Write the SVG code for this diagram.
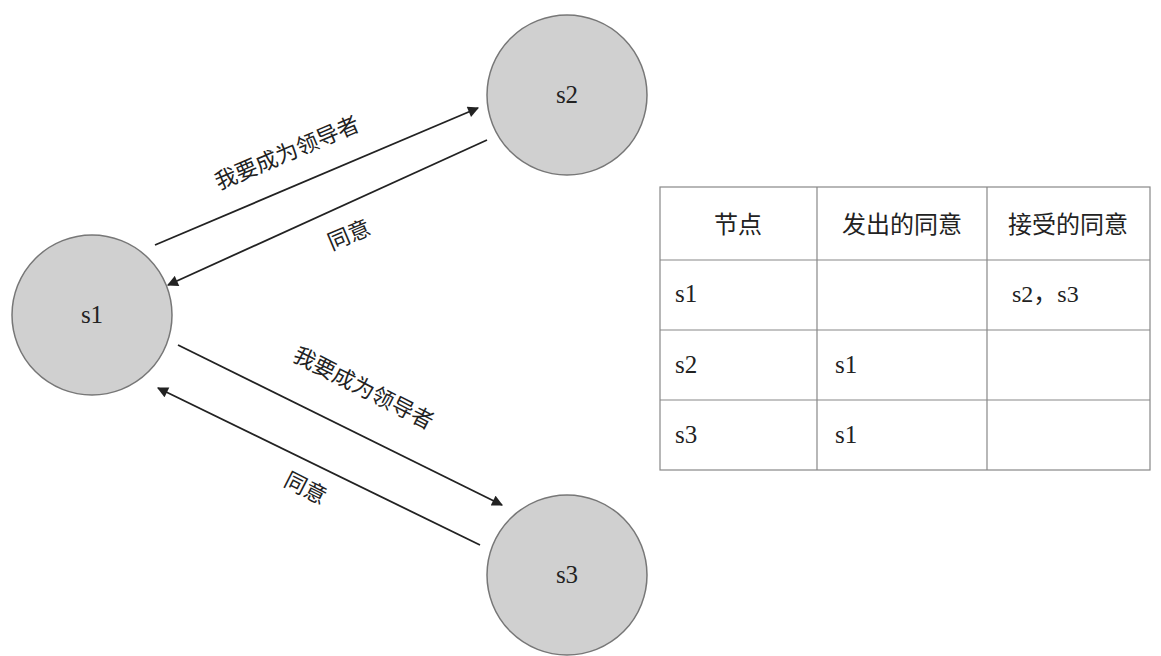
<svg xmlns="http://www.w3.org/2000/svg" width="1161" height="656" viewBox="0 0 1161 656">
<style>
.n{fill:#d0d0d0;stroke:#777;stroke-width:1.5}
.t{font-family:"Liberation Serif",serif;font-size:25px;fill:#222}
.c{font-family:"Liberation Serif","Noto Sans CJK SC",serif;font-size:22px;fill:#222}
.h{font-family:"Liberation Serif","Noto Sans CJK SC",serif;font-size:24px;fill:#222}
.l{stroke:#222;stroke-width:1.8;fill:none}
.g{stroke:#888;stroke-width:1.2;fill:none}
</style>
<defs><marker id="a" viewBox="0 0 10 10" refX="9" refY="5" markerWidth="13" markerHeight="11" markerUnits="userSpaceOnUse" orient="auto"><path d="M0,0L10,5L0,10z" fill="#222"/></marker></defs>
<rect width="1161" height="656" fill="#fff"/>
<g id="s1"><circle class="n" cx="92" cy="315" r="80"/><text class="t" x="92" y="323" text-anchor="middle">s1</text></g>
<g id="s2"><circle class="n" cx="567" cy="95" r="80"/><text class="t" x="567" y="103" text-anchor="middle">s2</text></g>
<g id="s3"><circle class="n" cx="567" cy="575" r="80"/><text class="t" x="567" y="583" text-anchor="middle">s3</text></g>
<g id="connectors">
<line class="l" x1="155" y1="245" x2="478" y2="108" marker-end="url(#a)"/>
<line class="l" x1="487" y1="140" x2="168" y2="285" marker-end="url(#a)"/>
<line class="l" x1="178" y1="345" x2="502" y2="505" marker-end="url(#a)"/>
<line class="l" x1="480" y1="545" x2="158" y2="388" marker-end="url(#a)"/>
<text class="c" transform="translate(290,160) rotate(-23)" text-anchor="middle">我要成为领导者</text>
<text class="c" transform="translate(352,242) rotate(-23)" text-anchor="middle">同意</text>
<text class="c" transform="translate(360,395) rotate(27)" text-anchor="middle">我要成为领导者</text>
<text class="c" transform="translate(302,495) rotate(27)" text-anchor="middle">同意</text>
</g>
<g id="table">
<rect class="g" x="660" y="187" width="490" height="283"/>
<line class="g" x1="817" y1="187" x2="817" y2="470"/>
<line class="g" x1="987" y1="187" x2="987" y2="470"/>
<line class="g" x1="660" y1="260" x2="1150" y2="260"/>
<line class="g" x1="660" y1="330" x2="1150" y2="330"/>
<line class="g" x1="660" y1="400" x2="1150" y2="400"/>
<text class="h" x="738" y="233" text-anchor="middle">节点</text>
<text class="h" x="902" y="233" text-anchor="middle">发出的同意</text>
<text class="h" x="1068" y="233" text-anchor="middle">接受的同意</text>
<text class="t" x="675" y="302">s1</text>
<text class="h" x="1012" y="302" font-size="25">s2，s3</text>
<text class="t" x="675" y="373">s2</text>
<text class="t" x="835" y="373">s1</text>
<text class="t" x="675" y="443">s3</text>
<text class="t" x="835" y="443">s1</text>
</g>
</svg>
